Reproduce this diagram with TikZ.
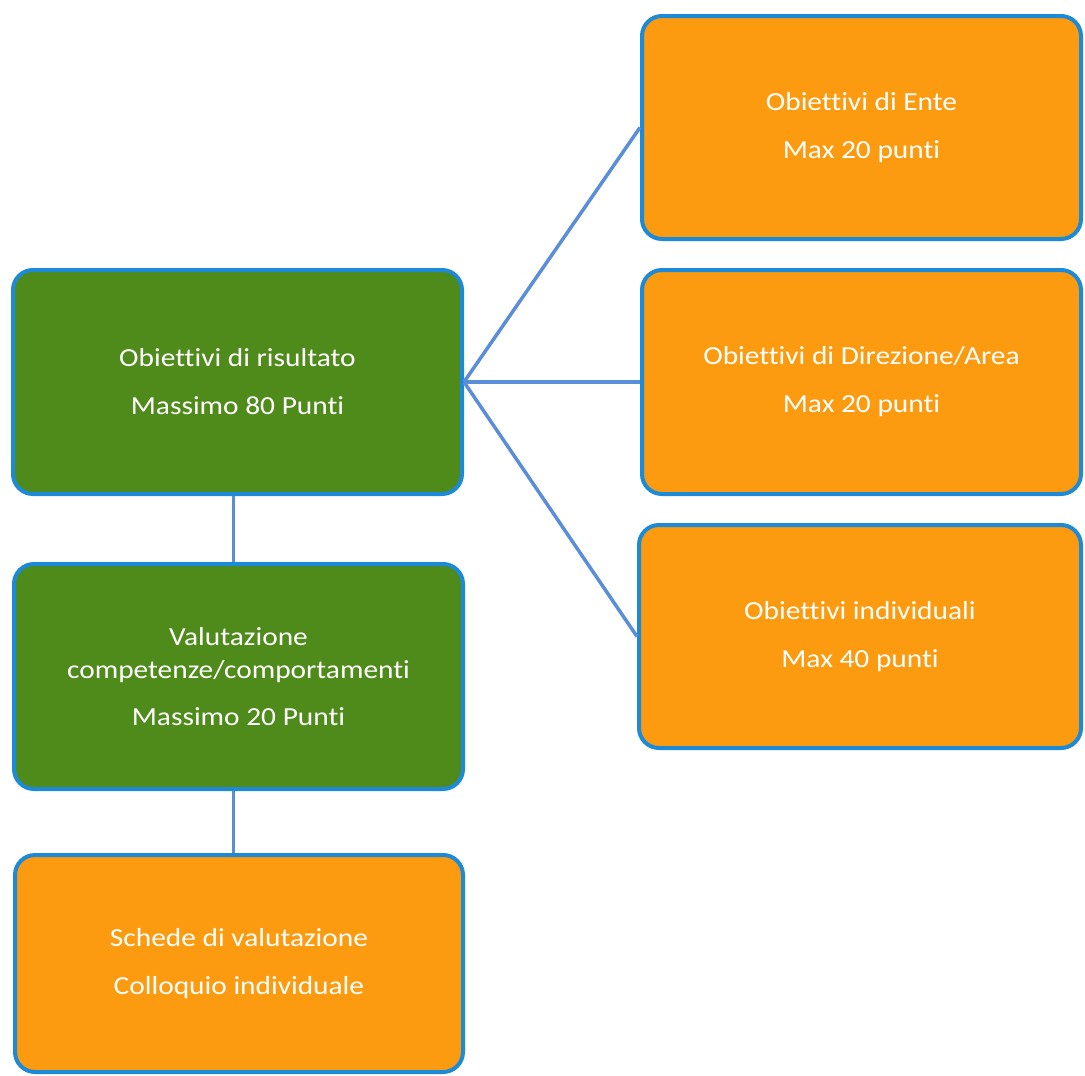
\documentclass[tikz,border=0pt]{standalone}
\usepackage{fontspec}
\newfontfamily\boxfont{Carlito}[FakeStretch=1.13, Ligatures=NoCommon]
\definecolor{greenfill}{HTML}{4F8B1B}
\definecolor{orangefill}{HTML}{FC9B10}
\definecolor{boxborder}{HTML}{1C8AD6}
\definecolor{linkblue}{HTML}{5B8ED8}
\tikzset{
  box/.style={draw=boxborder, line width=4pt, rounded corners=20pt, align=center,
    text=white, font=\boxfont\fontsize{26}{33}\selectfont, inner sep=0pt},
  greenbox/.style={box, fill=greenfill},
  orangebox/.style={box, fill=orangefill},
  link/.style={draw=linkblue, line width=3.5pt}
}
\begin{document}
\begin{tikzpicture}[x=1pt,y=-1pt]
\useasboundingbox (0,0) rectangle (1085,1076);
\node[greenbox, minimum width=449pt, minimum height=224pt] (g1) at (237.5,382)
  {Obiettivi di risultato\\[15pt]Massimo 80 Punti};
\node[greenbox, minimum width=449pt, minimum height=225pt] (g2) at (238.5,676.5)
  {Valutazione\\competenze/comportamenti\\[14pt]Massimo 20 Punti};
\node[orangebox, minimum width=448pt, minimum height=217pt] (s) at (239,963.5)
  {Schede di valutazione\\[15pt]Colloquio individuale};
\node[orangebox, minimum width=439pt, minimum height=223pt] (o1) at (861.5,127.5)
  {Obiettivi di Ente\\[15pt]Max 20 punti};
\node[orangebox, minimum width=439pt, minimum height=224pt] (o2) at (861.5,382)
  {Obiettivi di Direzione/Area\\[15pt]Max 20 punti};
\node[orangebox, minimum width=442pt, minimum height=223pt] (o3) at (860,636.5)
  {Obiettivi individuali\\[15pt]Max 40 punti};
\draw[link] ([xshift=-4pt]g1.south) -- ([xshift=-4pt]g1.south |- g2.north);
\draw[link] ([xshift=-5pt]g2.south) -- ([xshift=-5pt]g2.south |- s.north);
\draw[link] (g1.east) -- (o1.west);
\draw[link] (g1.east) -- (o2.west);
\draw[link] (g1.east) -- (o3.west);
\end{tikzpicture}
\end{document}
